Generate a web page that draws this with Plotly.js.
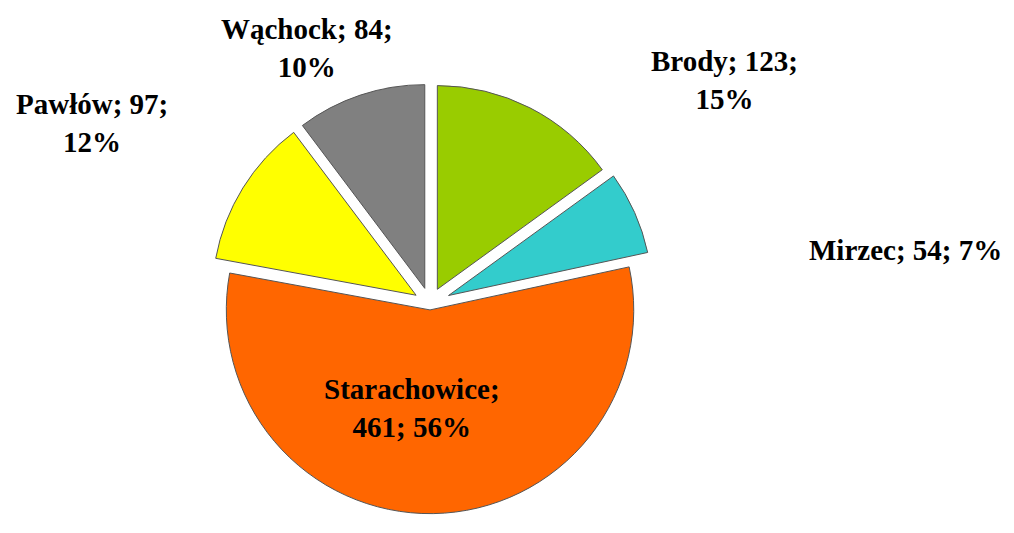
<!DOCTYPE html>
<html>
<head>
<meta charset="utf-8">
<script src="https://cdn.plot.ly/plotly-3.0.1.min.js"></script>
<style>html,body{margin:0;padding:0;background:#fff;}#chart{width:1014px;height:533px;}</style>
</head>
<body>
<div id="chart"></div>
<script>
const labels = ["Brody", "Mirzec", "Starachowice", "Pawłów", "Wąchock"];
const values = [123, 54, 461, 97, 84];
const colors = ["#99CC00", "#33CCCC", "#FF6600", "#FFFF00", "#808080"];
const pulls = [0.08, 0.1, 0.03, 0.08, 0.08];

const total = values.reduce((a, b) => a + b, 0);
const pct = values.map(v => Math.round(v / total * 100));

// label layout (paper coords) and line-break style per label
const labelPos = [
  {x: 724 / 1014, y: 1 - 80 / 533, br: 1},
  {x: 905 / 1014, y: 1 - 250 / 533, br: 0},
  {x: 412 / 1014, y: 1 - 408 / 533, br: 1},
  {x: 92 / 1014, y: 1 - 123 / 533, br: 2},
  {x: 307 / 1014, y: 1 - 48 / 533, br: 2}
];

function labelText(i) {
  const p = labelPos[i];
  let t;
  if (p.br === 0) t = labels[i] + "; " + values[i] + "; " + pct[i] + "%";
  else if (i === 2) t = labels[i] + ";<br>" + values[i] + "; " + pct[i] + "%";
  else t = labels[i] + "; " + values[i] + ";<br>" + pct[i] + "%";
  return "<b>" + t + "</b>";
}

const annotations = labels.map((l, i) => ({
  x: labelPos[i].x, y: labelPos[i].y, xref: "paper", yref: "paper",
  text: labelText(i), showarrow: false, xanchor: "center", yanchor: "middle",
  font: {family: "Liberation Serif, Times New Roman, serif", size: 29, color: "#000"}
}));

const trace = {
  type: "pie",
  labels: labels,
  values: values,
  sort: false,
  direction: "clockwise",
  rotation: 0,
  pull: pulls,
  marker: {colors: colors, line: {color: "#555555", width: 1}},
  textinfo: "none",
  hoverinfo: "label+value+percent",
  domain: {x: [0.203, 0.645], y: [0.0, 0.86]},
  showlegend: false
};

Plotly.newPlot("chart", [trace], {
  width: 1014, height: 533,
  margin: {l: 0, r: 0, t: 0, b: 0},
  paper_bgcolor: "#ffffff",
  showlegend: false,
  annotations: annotations
}, {displayModeBar: false});
</script>
</body>
</html>
